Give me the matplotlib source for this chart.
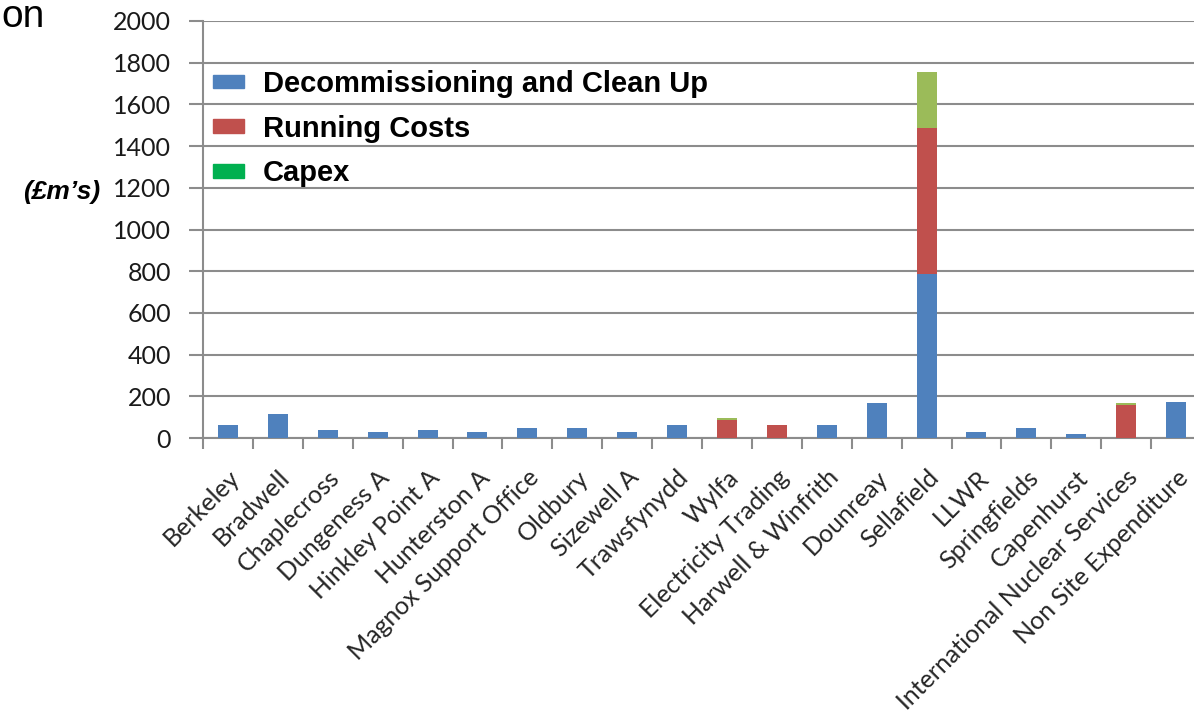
import matplotlib
matplotlib.use("Agg")
import matplotlib.pyplot as plt
from matplotlib.patches import Patch
import numpy as np

sites = ["Berkeley", "Bradwell", "Chaplecross", "Dungeness A", "Hinkley Point A",
         "Hunterston A", "Magnox Support Office", "Oldbury", "Sizewell A", "Trawsfynydd",
         "Wylfa", "Electricity Trading", "Harwell & Winfrith", "Dounreay", "Sellafield",
         "LLWR", "Springfields", "Capenhurst", "International Nuclear Services",
         "Non Site Expenditure"]
decom = [62, 115, 40, 30, 40, 30, 50, 50, 30, 62, 0, 0, 62, 168, 787, 30, 50, 20, 0, 175]
running = [0, 0, 0, 0, 0, 0, 0, 0, 0, 0, 88, 62, 0, 0, 698, 0, 0, 0, 160, 0]
capex = [0, 0, 0, 0, 0, 0, 0, 0, 0, 0, 6, 0, 0, 0, 272, 0, 0, 0, 6, 0]

blue = "#4F81BD"
red = "#C0504D"
green_bar = "#9BBB59"
green_leg = "#00B050"
grid_col = "#8C8C8C"

W, H = 1194, 727
fig = plt.figure(figsize=(W / 100, H / 100), dpi=100)
ax = fig.add_axes([203 / W, 1 - 438 / H, (1201 - 203) / W, (438 - 21) / H])

x = np.arange(len(sites))
d = np.array(decom, float)
r = np.array(running, float)
c = np.array(capex, float)
bw = 0.4
ax.bar(x, d, bw, color=blue, zorder=3)
ax.bar(x, r, bw, bottom=d, color=red, zorder=3)
ax.bar(x, c, bw, bottom=d + r, color=green_bar, zorder=3)

ax.set_xlim(-0.5, len(sites) - 0.5)
ax.set_ylim(0, 2000)
ax.set_yticks(range(0, 2001, 200))
ax.yaxis.grid(True, color=grid_col, lw=1.5, zorder=0)
ax.set_axisbelow(True)

for s in ["top", "right"]:
    ax.spines[s].set_visible(False)
for s in ["left", "bottom"]:
    ax.spines[s].set_color(grid_col)
    ax.spines[s].set_linewidth(1.5)

# x ticks on category boundaries, labels in the middle
ax.set_xticks(np.arange(-0.5, len(sites), 1.0))
ax.set_xticklabels([])
ax.set_xticks(x, minor=True)
ax.set_xticklabels(sites, minor=True, rotation=45, ha="right", va="top",
                   rotation_mode="anchor", fontsize=18, family="Lato", color="#262626")
ax.tick_params(axis="x", which="major", length=8, width=1.5, color=grid_col)
ax.tick_params(axis="x", which="minor", length=0, pad=20)
ax.tick_params(axis="y", length=10, width=1.5, color=grid_col, pad=13)
for t in ax.get_yticklabels():
    t.set_fontsize(18)
    t.set_family("Lato")
    t.set_color("#1a1a1a")

handles = [Patch(color=blue), Patch(color=red), Patch(color=green_leg)]
labels = ["Decommissioning and Clean Up", "Running Costs", "Capex"]
ax.legend(handles, labels, loc="upper left", bbox_to_anchor=(213 / W, 1 - 70 / H),
          bbox_transform=fig.transFigure, frameon=False, borderpad=0, borderaxespad=0,
          handlelength=1.07, handleheight=0.35, handletextpad=0.65, labelspacing=0.57,
          prop={"family": "Liberation Sans", "weight": "bold", "size": 21})

fig.text(100 / W, 1 - 192 / H, "(£m’s)", ha="right", va="center", fontsize=19,
         fontweight="bold", fontstyle="italic", family="Liberation Sans")
fig.text(1 / W, 1 - 27 / H, "on", ha="left", va="baseline", fontsize=28,
         family="Liberation Sans")

fig.savefig("out.png", dpi=100)
